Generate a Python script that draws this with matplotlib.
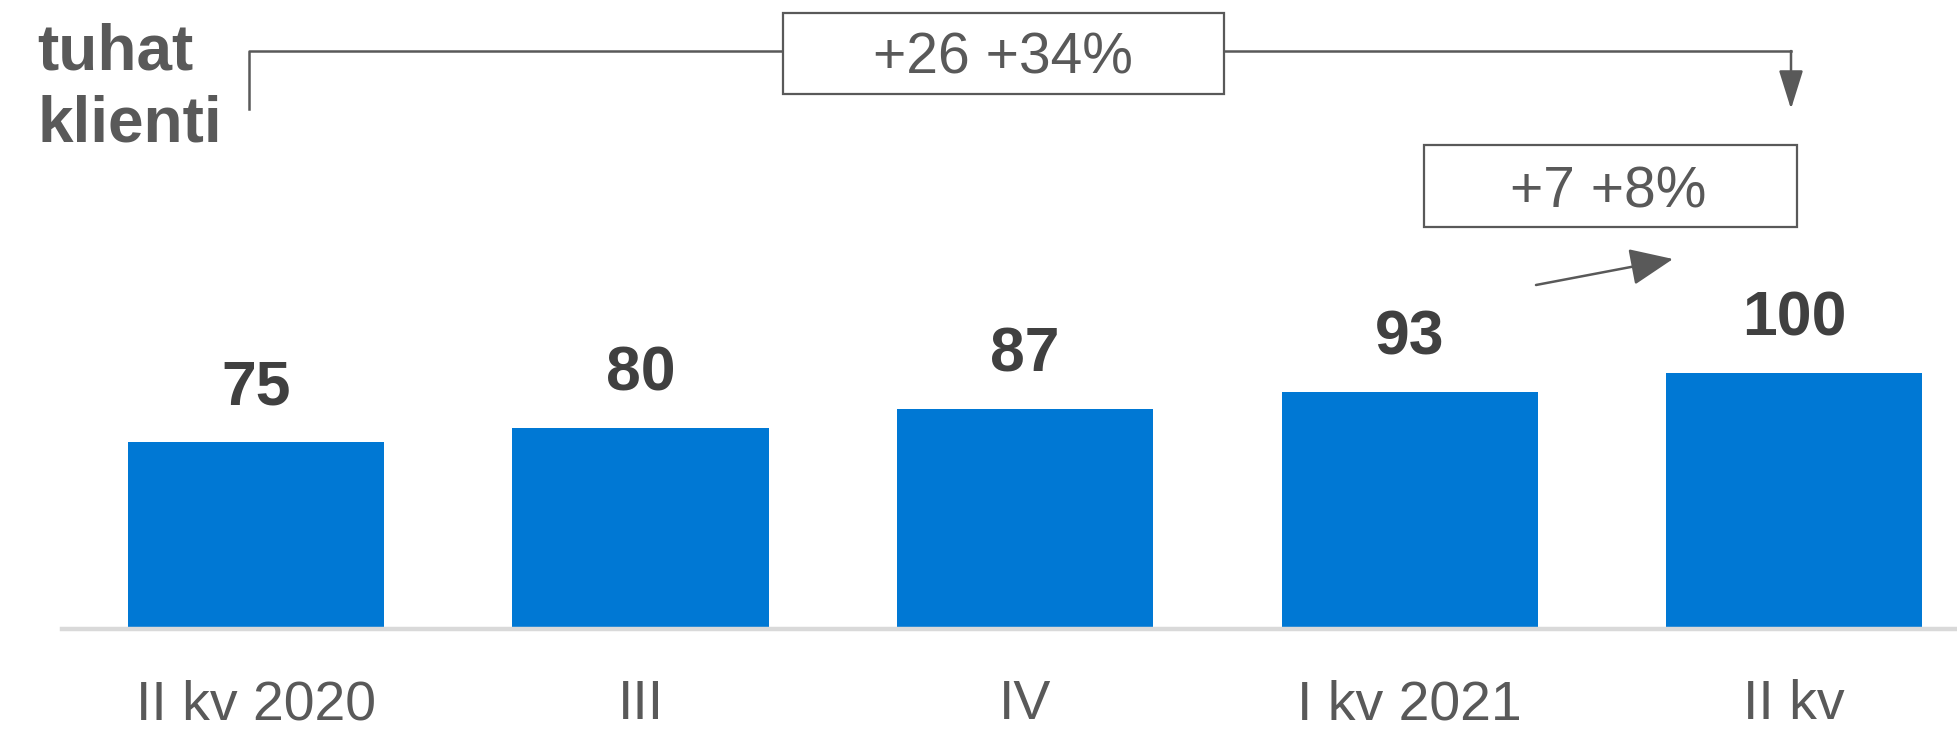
import matplotlib.pyplot as plt
from matplotlib.patches import FancyArrowPatch, Rectangle
from matplotlib.lines import Line2D

# data
quarters = ['II kv 2020', 'III', 'IV', 'I kv 2021', 'II kv']
clients = [75, 80, 87, 93, 100]
total_change = '+26 +34%'
last_change = '+7 +8%'

BLUE = '#0078D4'
GRAY = '#595959'
DARK = '#404040'
W, H = 1957, 730

plt.rcParams['font.family'] = ['Liberation Sans', 'DejaVu Sans']

fig = plt.figure(figsize=(W / 100, H / 100), dpi=100)


# pixel (from top-left) -> figure fraction
def px(x, y):
    return x / W, 1 - y / H


ax = fig.add_axes([62 / W, 101 / H, 1 - 62 / W, 629 / H])
x = list(range(len(quarters)))
ax.bar(x, clients, width=0.666, color=BLUE, zorder=2)
ax.set_xlim(-0.504, 4.423)
ax.set_ylim(7.2, 235.1)

for xi, v in zip(x, clients):
    ax.annotate(str(v), (xi, v), xytext=(0, 27), textcoords='offset points',
                ha='center', va='baseline', fontsize=45, fontweight='bold', color=DARK)

ax.set_xticks(x)
ax.set_xticklabels(quarters, fontsize=40, color=GRAY)
ax.tick_params(axis='x', length=0, pad=36)
ax.set_yticks([])
for s in ['top', 'left', 'right']:
    ax.spines[s].set_visible(False)
ax.spines['bottom'].set_color('#d9d9d9')
ax.spines['bottom'].set_linewidth(3.2)

# unit label
fig.text(*px(37, 69), 'tuhat', fontsize=46, fontweight='bold', color=GRAY, va='baseline')
fig.text(*px(37, 142), 'klienti', fontsize=46, fontweight='bold', color=GRAY, va='baseline')

# bracket over the whole period
pts = [px(249, 109), px(249, 51), px(1791, 51)]
fig.add_artist(Line2D([p[0] for p in pts], [p[1] for p in pts], color=GRAY, lw=1.8,
                      transform=fig.transFigure))
fig.add_artist(FancyArrowPatch(px(1791, 51), px(1791, 109), transform=fig.transFigure,
                               arrowstyle='-|>,head_length=1.6,head_width=0.5',
                               mutation_scale=15, color=GRAY, lw=1.8,
                               shrinkA=0, shrinkB=0))

x0, y0 = px(783, 94)
fig.add_artist(Rectangle((x0, y0), (1224 - 783) / W, (94 - 13) / H, transform=fig.transFigure,
                         facecolor='white', edgecolor=GRAY, lw=1.6, zorder=3))
fig.text(*px(1003, 74), total_change, fontsize=41, color=GRAY, ha='center', va='baseline',
         zorder=4)

# last quarter change
x0, y0 = px(1424, 227)
fig.add_artist(Rectangle((x0, y0), (1797 - 1424) / W, (227 - 145) / H, transform=fig.transFigure,
                         facecolor='white', edgecolor=GRAY, lw=1.6, zorder=3))
fig.text(*px(1608, 207), last_change, fontsize=41, color=GRAY, ha='center', va='baseline',
         zorder=4)
fig.add_artist(FancyArrowPatch(px(1536, 285), px(1673, 259), transform=fig.transFigure,
                               arrowstyle='-|>,head_length=1.8,head_width=0.77',
                               mutation_scale=15, color=GRAY, lw=1.8,
                               shrinkA=0, shrinkB=0))

fig.savefig('out.png', dpi=100)
